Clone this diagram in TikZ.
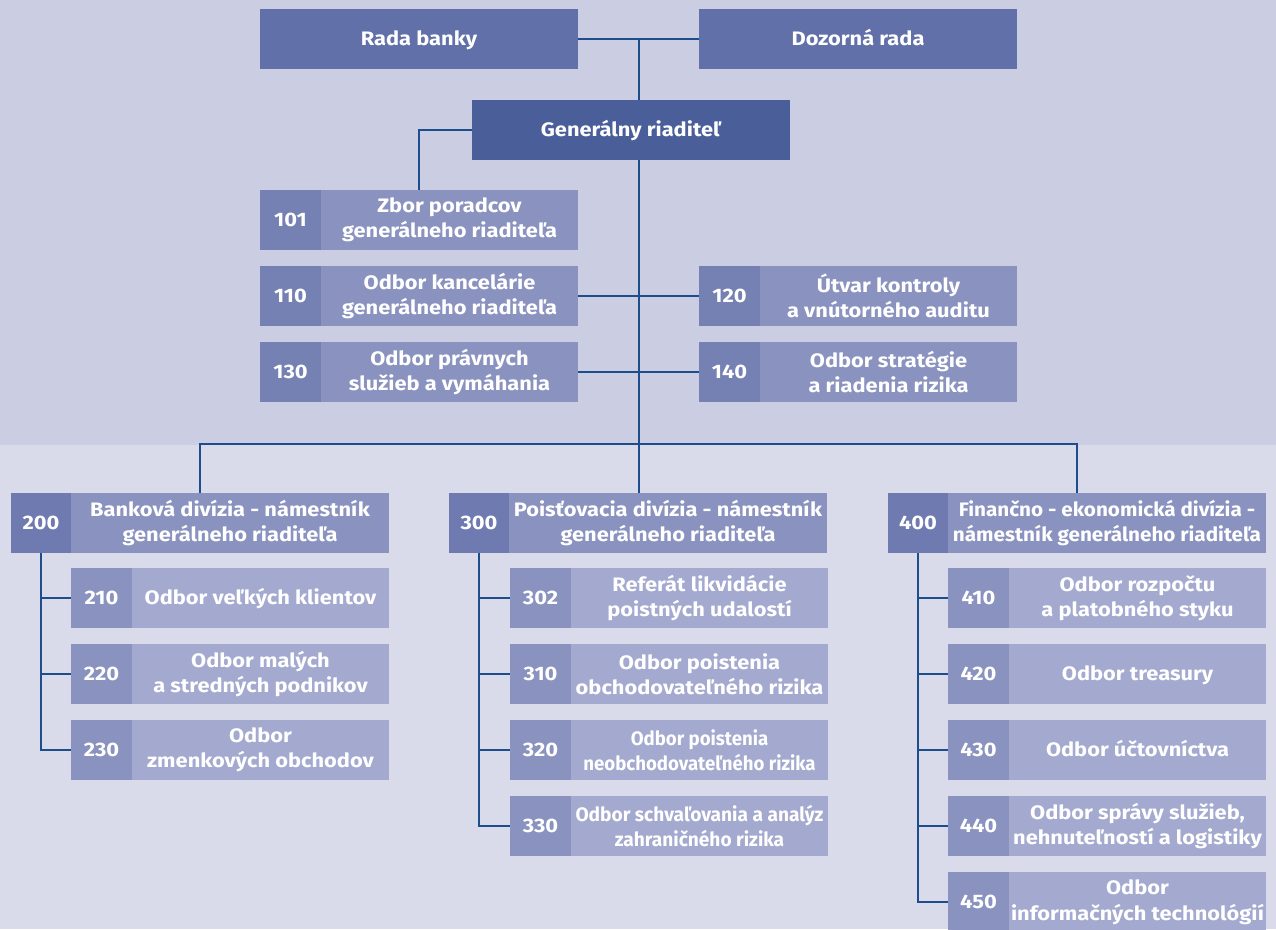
\documentclass[tikz,border=0pt]{standalone}
\usepackage{fontspec}
\setmainfont{Fira Sans}[FakeStretch=1.12]
\newfontfamily\ffour{Fira Sans}[FakeStretch=1.06]
\newfontfamily\fthree{Fira Sans}[FakeStretch=0.955]
\newfontfamily\fthirty{Fira Sans}[FakeStretch=0.98]
\definecolor{bgtop}{HTML}{CBCDE3}
\definecolor{bgbot}{HTML}{D9DBEA}
\definecolor{topbox}{HTML}{6170A8}
\definecolor{gdbox}{HTML}{4A5E9A}
\definecolor{numA}{HTML}{7580B3}
\definecolor{txtA}{HTML}{8A92C0}
\definecolor{numD}{HTML}{6F7AB0}
\definecolor{numS}{HTML}{8A92BF}
\definecolor{txtS}{HTML}{A3A9CF}
\definecolor{linec}{HTML}{1E4D8C}
\pgfdeclarelayer{bg}
\pgfdeclarelayer{lines}
\pgfsetlayers{bg,lines,main}
\tikzset{
  base/.style={rectangle, inner sep=0pt, outer sep=0pt, anchor=north west, text=white, align=center, minimum height=60pt,
    font=\bfseries\fontsize{19.5}{25.5}\selectfont},
  one/.style={text height=14pt, text depth=1.5pt},
  topb/.style={base, one, fill=topbox, minimum width=318pt},
  gdb/.style={base, one, fill=gdbox, minimum width=318pt},
  numa/.style={base, one, fill=numA, minimum width=61pt},
  txta/.style={base, fill=txtA, minimum width=257pt},
  numd/.style={base, one, fill=numD, minimum width=60pt},
  txtd/.style={base, fill=txtA, minimum width=318pt},
  nums/.style={base, one, fill=numS, minimum width=61pt},
  txts/.style={base, fill=txtS, minimum width=257pt},
  conn/.style={draw=linec, line width=1.4pt}
}
\begin{document}
\begin{tikzpicture}[x=1pt,y=-1pt]
\useasboundingbox (0,0) rectangle (1276,929);
\begin{pgfonlayer}{bg}
\fill[bgtop] (0,0) rectangle (1276,445);
\fill[bgbot] (0,445) rectangle (1276,929);
\end{pgfonlayer}
% top
\node[topb] (rada) at (260,9) {Rada banky};
\node[topb] (dozor) at (699,9) {Dozorná rada};
\node[gdb] (gr) at (472,100) {Generálny riaditeľ};
% level 100
\node[numa] (n101) at (260,190) {101};
\node[txta] (t101) at (n101.north east) {Zbor poradcov\\generálneho riaditeľa};
\node[numa] (n110) at (260,266) {110};
\node[txta] (t110) at (n110.north east) {Odbor kancelárie\\generálneho riaditeľa};
\node[numa] (n130) at (260,342) {130};
\node[txta] (t130) at (n130.north east) {Odbor právnych\\služieb a vymáhania};
\node[numa] (n120) at (699,266) {120};
\node[txta] (t120) at (n120.north east) {Útvar kontroly\\a vnútorného auditu};
\node[numa] (n140) at (699,342) {140};
\node[txta] (t140) at (n140.north east) {Odbor stratégie\\a riadenia rizika};
% divisions
\node[numd] (n200) at (11,493) {200};
\node[txtd] (t200) at (n200.north east) {Banková divízia - námestník\\generálneho riaditeľa};
\node[numd] (n300) at (449,493) {300};
\node[txtd] (t300) at (n300.north east) {Poisťovacia divízia - námestník\\generálneho riaditeľa};
\node[numd] (n400) at (888,493) {400};
\node[txtd, font=\ffour\bfseries\fontsize{19.5}{25.5}\selectfont] (t400) at (n400.north east) {Finančno - ekonomická divízia -\\námestník generálneho riaditeľa};
% 200 subs
\node[nums] (n210) at (71,568) {210};
\node[txts, one] (t210) at (n210.north east) {Odbor veľkých klientov};
\node[nums] (n220) at (71,644) {220};
\node[txts] (t220) at (n220.north east) {Odbor malých\\a stredných podnikov};
\node[nums] (n230) at (71,720) {230};
\node[txts] (t230) at (n230.north east) {Odbor\\zmenkových obchodov};
% 300 subs
\node[nums] (n302) at (510,568) {302};
\node[txts] (t302) at (n302.north east) {Referát likvidácie\\poistných udalostí};
\node[nums] (n310) at (510,644) {310};
\node[txts] (t310) at (n310.north east) {Odbor poistenia\\obchodovateľného rizika};
\node[nums] (n320) at (510,720) {320};
\node[txts, font=\fthree\bfseries\fontsize{19.5}{25}\selectfont] (t320) at (n320.north east) {Odbor poistenia\\neobchodovateľného rizika};
\node[nums] (n330) at (510,796) {330};
\node[txts, font=\fthirty\bfseries\fontsize{19.5}{25}\selectfont] (t330) at (n330.north east) {Odbor schvaľovania a analýz\\zahraničného rizika};
% 400 subs
\node[nums] (n410) at (948,568) {410};
\node[txts] (t410) at (n410.north east) {Odbor rozpočtu\\a platobného styku};
\node[nums] (n420) at (948,644) {420};
\node[txts, one] (t420) at (n420.north east) {Odbor treasury};
\node[nums] (n430) at (948,720) {430};
\node[txts, one] (t430) at (n430.north east) {Odbor účtovníctva};
\node[nums] (n440) at (948,796) {440};
\node[txts] (t440) at (n440.north east) {Odbor správy služieb,\\nehnuteľností a logistiky};
\node[nums] (n450) at (948,872) {450};
\node[txts] (t450) at (n450.north east) {Odbor\\informačných technológií};
% connectors
\coordinate (spine) at (639,40);
\coordinate (hub) at (639,444);
\coordinate (c101) at (419,190);
\coordinate (d200) at (200,493);
\coordinate (d300) at (639,493);
\coordinate (d400) at (1077,493);
\begin{pgfonlayer}{lines}
\draw[conn] (rada.east) -- (dozor.west);
\draw[conn] (spine) -- (hub);
\draw[conn] (gr.west) -| (c101);
\draw[conn] (t110.east) -- (n120.west);
\draw[conn] (t130.east) -- (n140.west);
\draw[conn] (d200) |- (hub) -| (d400);
\draw[conn] (hub) -- (d300);
\draw[conn] (n200.south) |- (n230.west);
\draw[conn] (n200.south |- n210.west) -- (n210.west);
\draw[conn] (n200.south |- n220.west) -- (n220.west);
\draw[conn] (n300.south) |- (n330.west);
\draw[conn] (n300.south |- n302.west) -- (n302.west);
\draw[conn] (n300.south |- n310.west) -- (n310.west);
\draw[conn] (n300.south |- n320.west) -- (n320.west);
\draw[conn] (n400.south) |- (n450.west);
\draw[conn] (n400.south |- n410.west) -- (n410.west);
\draw[conn] (n400.south |- n420.west) -- (n420.west);
\draw[conn] (n400.south |- n430.west) -- (n430.west);
\draw[conn] (n400.south |- n440.west) -- (n440.west);
\end{pgfonlayer}
\end{tikzpicture}
\end{document}
